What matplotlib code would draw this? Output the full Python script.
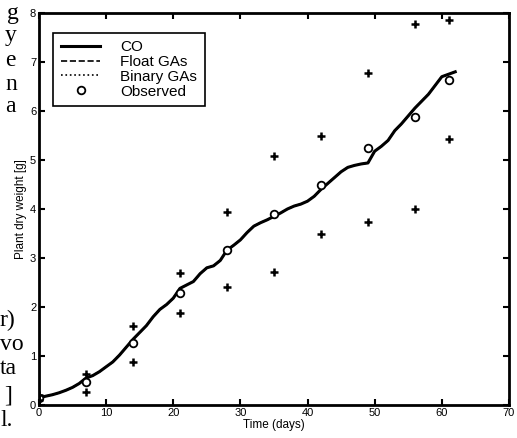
import numpy as np
import matplotlib
matplotlib.use('Agg')
import matplotlib.pyplot as plt

plt.rcParams['font.family'] = ['Liberation Sans', 'DejaVu Sans']

# simulated dry weight (CO / GA fits overlap almost exactly)
sim_days = list(range(0, 63))
co = [0.15, 0.18, 0.21, 0.25, 0.30, 0.36, 0.44, 0.55, 0.60, 0.68,
      0.78, 0.88, 1.02, 1.18, 1.34, 1.48, 1.62, 1.80, 1.95, 2.05,
      2.18, 2.38, 2.45, 2.52, 2.68, 2.80, 2.84, 2.95, 3.16, 3.26,
      3.37, 3.52, 3.65, 3.72, 3.78, 3.85, 3.92, 4.00, 4.06, 4.10,
      4.16, 4.26, 4.40, 4.52, 4.64, 4.76, 4.85, 4.89, 4.92, 4.94,
      5.18, 5.28, 5.40, 5.60, 5.74, 5.90, 6.06, 6.20, 6.34, 6.52,
      6.70, 6.75, 6.80]
float_ga = co
binary_ga = co

# observed mean and spread (+ markers)
obs_days = [0, 7, 14, 21, 28, 35, 42, 49, 56, 61]
obs = [0.15, 0.47, 1.27, 2.29, 3.16, 3.90, 4.49, 5.24, 5.88, 6.63]
obs_hi = [0.20, 0.63, 1.61, 2.69, 3.94, 5.08, 5.49, 6.78, 7.78, 7.86]
obs_lo = [0.10, 0.27, 0.88, 1.88, 2.41, 2.71, 3.49, 3.73, 4.00, 5.43]

fig = plt.figure(figsize=(5.17, 4.38), dpi=100)
ax = fig.add_axes([0.0754, 0.0753, 0.909, 0.895])

ax.plot(sim_days, co, 'k-', lw=2.2, label='CO')
ax.plot(sim_days, float_ga, 'k--', lw=1.2, label='Float GAs')
ax.plot(sim_days, binary_ga, 'k:', lw=1.2, label='Binary GAs')
ax.plot(obs_days, obs, 'o', mfc='white', mec='k', mew=1.3, ms=5.5, label='Observed')
ax.plot(obs_days, obs_hi, 'k+', ms=6, mew=1.8)
ax.plot(obs_days, obs_lo, 'k+', ms=6, mew=1.8)

ax.set_xlim(0, 70)
ax.set_ylim(0, 8)
ax.set_xticks(range(0, 71, 10))
ax.set_yticks(range(0, 9))
ax.tick_params(direction='in', length=4, width=1.5, top=True, right=True,
               labelsize=8, pad=2)
for s in ax.spines.values():
    s.set_linewidth(2)
ax.set_xlabel('Time (days)', fontsize=8.5, labelpad=1)
ax.set_ylabel('Plant dry weight [g]', fontsize=8.5, labelpad=2)

leg = ax.legend(loc='upper left', bbox_to_anchor=(0.03, 0.95), fontsize=11,
                frameon=True, fancybox=False, edgecolor='k', framealpha=1,
                handlelength=2.6, handletextpad=1.3, labelspacing=0.05,
                borderpad=0.5, borderaxespad=0)
leg.get_frame().set_linewidth(1.2)

# cut-off body text of the page at the left margin
serif = ['Liberation Serif', 'DejaVu Serif']
for txt, x, y in [('g', 7, 14), ('y', 5, 36), ('e', 5, 60), ('n', 5, 84),
                  ('a', 5, 107), ('r)', 0, 320), ('vo', 0, 344),
                  ('ta', 0, 369), (']', 4, 396), ('l.', 0, 421)]:
    fig.text(x / 517, 1 - y / 438, txt, fontsize=17, family=serif,
             va='center', ha='left')

fig.savefig('out.png', dpi=100)
